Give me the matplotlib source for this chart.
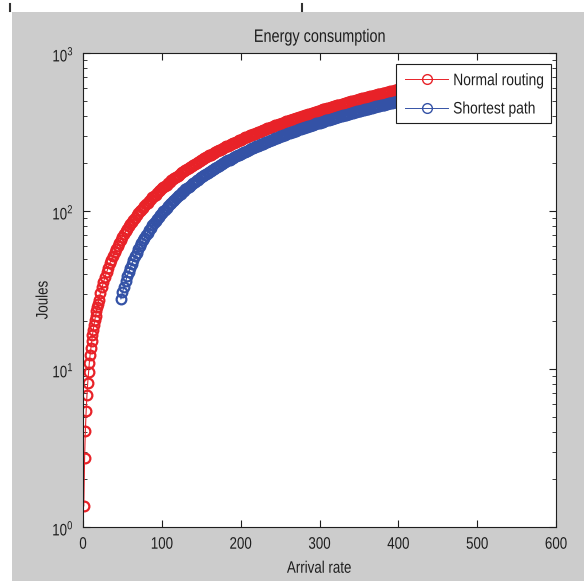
import matplotlib
matplotlib.use("Agg")
import matplotlib.pyplot as plt
from matplotlib import patheffects
from matplotlib.transforms import Affine2D
from matplotlib.patches import Rectangle
from matplotlib.lines import Line2D

# ---------------- data ----------------
normal_x = list(range(1, 21)) + list(range(22, 401, 2))
normal_y = [1.36, 2.72, 4.08, 5.44, 6.81, 8.17, 9.53, 10.9, 12.3, 13.6,
            15.0, 16.4, 17.7, 19.1, 20.5, 21.8, 23.2, 24.6, 25.9, 27.3,
            30.1, 32.8, 35.5, 38.3, 41.0, 43.8, 46.6, 49.3, 52.1, 54.8,
            57.6, 60.4, 63.1, 65.9, 68.7, 71.5, 74.2, 77.0, 79.8, 82.6,
            85.4, 88.2, 90.9, 93.7, 96.5, 99.3, 102, 105, 108, 111,
            113, 116, 119, 122, 125, 127, 130, 133, 136, 139,
            142, 144, 147, 150, 153, 156, 159, 161, 164, 167,
            170, 173, 176, 179, 181, 184, 187, 190, 193, 196,
            199, 201, 204, 207, 210, 213, 216, 219, 222, 225,
            227, 230, 233, 236, 239, 242, 245, 248, 251, 254,
            257, 259, 262, 265, 268, 271, 274, 277, 280, 283,
            286, 289, 292, 295, 298, 301, 303, 306, 309, 312,
            315, 318, 321, 324, 327, 330, 333, 336, 339, 342,
            345, 348, 351, 354, 357, 360, 363, 366, 369, 372,
            375, 378, 381, 384, 387, 390, 393, 396, 399, 402,
            405, 408, 411, 414, 417, 420, 423, 426, 429, 432,
            436, 439, 442, 445, 448, 451, 454, 457, 460, 463,
            466, 469, 472, 475, 478, 481, 485, 488, 491, 494,
            497, 500, 503, 506, 509, 512, 516, 519, 522, 525,
            528, 531, 534, 537, 540, 544, 547, 550, 553, 556,
            559, 562, 565, 569, 572, 575, 578, 581, 584, 588]

shortest_x = list(range(48, 401, 2))
shortest_y = [27.8, 30.5, 33.2, 35.8, 38.5, 41.1, 43.8, 46.5, 49.1, 51.8,
              54.4, 57.1, 59.8, 62.4, 65.1, 67.7, 70.4, 73.1, 75.7, 78.4,
              81.0, 83.7, 86.4, 89.0, 91.7, 94.3, 97.0, 99.7, 102, 105,
              108, 110, 113, 116, 118, 121, 124, 126, 129, 132,
              134, 137, 140, 142, 145, 148, 150, 153, 156, 158,
              161, 164, 166, 169, 171, 174, 177, 179, 182, 185,
              187, 190, 193, 195, 198, 201, 203, 206, 209, 211,
              214, 217, 219, 222, 225, 227, 230, 233, 235, 238,
              241, 243, 246, 249, 251, 254, 257, 259, 262, 265,
              267, 270, 273, 275, 278, 281, 283, 286, 289, 291,
              294, 297, 299, 302, 304, 307, 310, 312, 315, 318,
              320, 323, 326, 328, 331, 334, 336, 339, 342, 344,
              347, 350, 352, 355, 358, 360, 363, 366, 368, 371,
              374, 376, 379, 382, 384, 387, 390, 392, 395, 398,
              400, 403, 406, 408, 411, 414, 416, 419, 422, 424,
              427, 430, 432, 435, 437, 440, 443, 445, 448, 451,
              453, 456, 459, 461, 464, 467, 469, 472, 475, 477,
              480, 483, 485, 488, 491, 493, 496]

series_labels = ["Normal routing", "Shortest path"]
x_ticks = [0, 100, 200, 300, 400, 500, 600]
title_text = "Energy consumption"
xlabel_text = "Arrival rate"
ylabel_text = "Joules"

# ---------------- style ----------------
fam = "Liberation Sans"
plt.rcParams["font.family"] = [fam, "DejaVu Sans"]
plt.rcParams["mathtext.fontset"] = "custom"
plt.rcParams["mathtext.rm"] = fam
plt.rcParams["mathtext.it"] = fam
plt.rcParams["mathtext.default"] = "regular"


class Squeeze(patheffects.AbstractPathEffect):
    """Condense glyphs horizontally (MATLAB-like narrow lettering)."""

    def __init__(self, sx=0.8, anchor="center"):
        super().__init__()
        self.sx = sx
        self.anchor = anchor

    def draw_path(self, renderer, gc, tpath, affine, rgbFace=None):
        ext = tpath.get_extents()
        if self.anchor == "left":
            cx = ext.x0
        elif self.anchor == "right":
            cx = ext.x1
        else:
            cx = 0.5 * (ext.x0 + ext.x1)
        t = Affine2D().translate(-cx, 0).scale(self.sx, 1).translate(cx, 0)
        renderer.draw_path(gc, tpath, t + affine, rgbFace)


W, H = 584, 581
fig = plt.figure(figsize=(W / 100, H / 100), dpi=100, facecolor="white")

# grey MATLAB figure background
fig.add_artist(Rectangle((12 / W, 0), 1 - 12 / W, 1 - 12 / H,
                         transform=fig.transFigure, facecolor="#cccccc",
                         edgecolor="none", zorder=-10))
for px in (10, 302):
    fig.add_artist(Line2D([px / W, px / W], [1 - 4 / H, 1 - 11 / H],
                          transform=fig.transFigure, color="#333333", lw=1.5))

AX_L, AX_R, AX_T, AX_B = 83, 556, 53, 527
ax = fig.add_axes([AX_L / W, 1 - AX_B / H, (AX_R - AX_L) / W, (AX_B - AX_T) / H])
ax.set_facecolor("white")


def ax_frac(px, py):
    return (px - AX_L) / (AX_R - AX_L), (AX_B - py) / (AX_B - AX_T)


red = "#e82228"
blue = "#3452a6"
mk = dict(marker="o", markersize=7, markerfacecolor="none",
          markeredgewidth=1.6, lw=0.8)
ax.plot(normal_x, normal_y, color=red, label=series_labels[0], **mk)
ax.plot(shortest_x, shortest_y, color=blue, label=series_labels[1], **mk)

ax.set_yscale("log")
ax.set_ylim(1, 1000)
ax.set_xlim(0, 600)
ax.set_xticks(x_ticks)

fs = 12
tc = "#1e1e1e"
ax.tick_params(axis="both", which="both", direction="in", top=True,
               right=True, labelsize=fs, colors=tc)
ax.tick_params(which="major", length=5, width=0.8)
ax.tick_params(which="minor", length=3, width=0.6)
ax.tick_params(axis="x", pad=7)
ax.tick_params(axis="y", pad=6.5)
for s in ax.spines.values():
    s.set_linewidth(0.8)
    s.set_color(tc)

sq = 0.8
for lab in ax.get_xticklabels():
    lab.set_path_effects([Squeeze(sq, "center")])
for lab in ax.get_yticklabels():
    lab.set_path_effects([Squeeze(sq, "right")])

t = ax.set_title(title_text, fontsize=13, color=tc, pad=8)
t.set_path_effects([Squeeze(sq, "center")])
xl = ax.set_xlabel(xlabel_text, fontsize=fs, color=tc, labelpad=6.5)
xl.set_path_effects([Squeeze(sq, "center")])
yl = ax.set_ylabel(ylabel_text, fontsize=fs, color=tc)
yl.set_path_effects([Squeeze(sq, "center")])
ax.yaxis.set_label_coords(*ax_frac(50.5, 300))

# legend: frame drawn separately so the condensed labels fit like MATLAB's
x0, y0 = ax_frac(396, 123)
x1, y1 = ax_frac(551, 64)
ax.add_patch(Rectangle((x0, y0), x1 - x0, y1 - y0, transform=ax.transAxes,
                       facecolor="white", edgecolor=tc, lw=0.8, zorder=4.9))
leg = ax.legend(loc="upper left", bbox_to_anchor=ax_frac(396, 64),
                borderaxespad=0, fontsize=fs, frameon=False,
                borderpad=0.55, handlelength=2.57, handletextpad=0.3,
                labelspacing=0.8)
for txt in leg.get_texts():
    txt.set_color(tc)
    txt.set_path_effects([Squeeze(0.83, "left")])
for h in leg.legend_handles:
    h.set_markeredgewidth(1.0)
    h.set_linewidth(0.7)

fig.savefig("out.png", dpi=100, facecolor="white")
